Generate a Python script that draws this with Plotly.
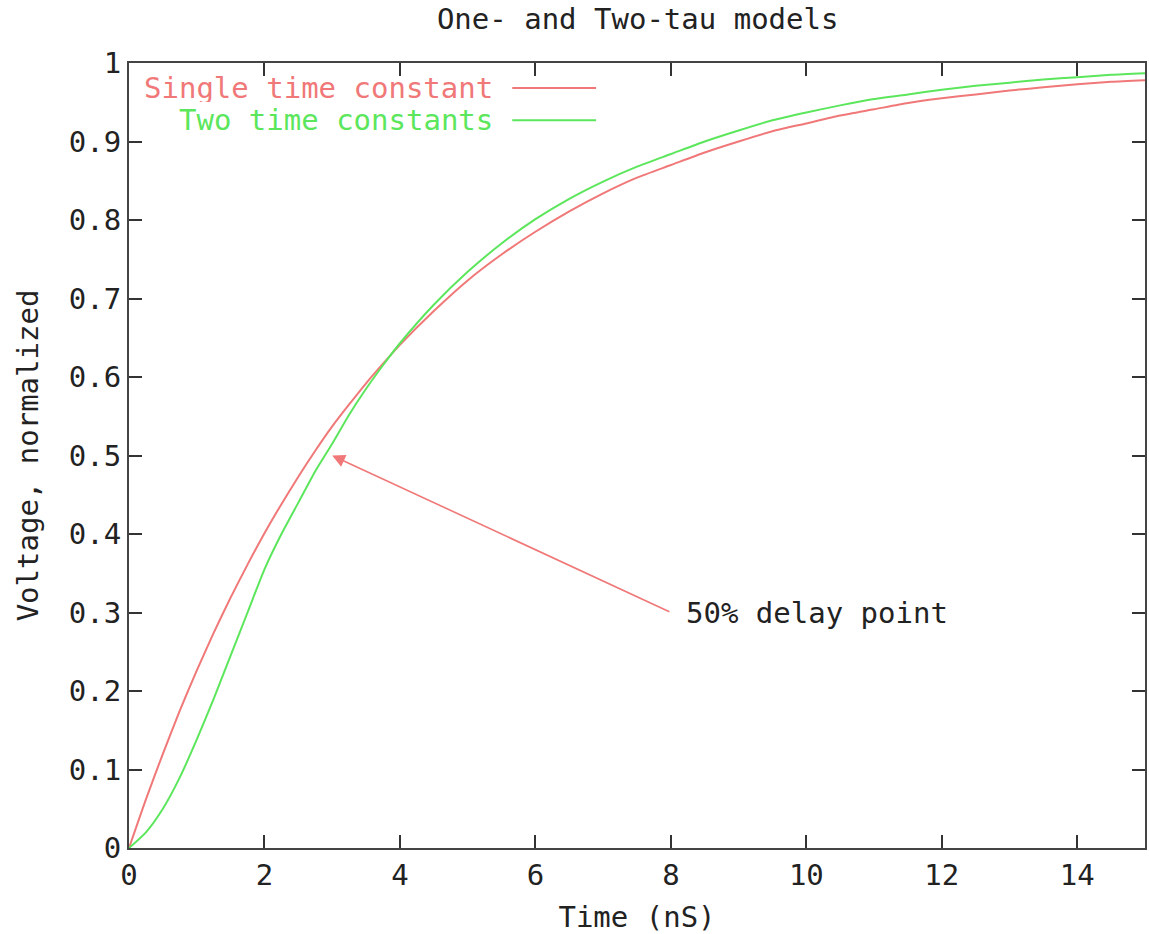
import plotly.graph_objects as go

# Time (nS)
t_vals = [0, 0.25, 0.5, 0.75, 1.0, 1.25, 1.5, 1.75, 2.0, 2.25, 2.5, 2.75, 3.0, 3.25, 3.5, 3.75, 4.0,
          4.5, 5.0, 5.5, 6.0, 6.5, 7.0, 7.5, 8.0, 8.5, 9.0, 9.5, 10.0, 10.5, 11.0, 11.5, 12.0,
          12.5, 13.0, 13.5, 14.0, 14.5, 15.0]

single_tau = [0.0, 0.062, 0.12, 0.175, 0.226, 0.274, 0.319, 0.361, 0.401, 0.438, 0.473, 0.506, 0.537,
              0.565, 0.592, 0.617, 0.641, 0.684, 0.723, 0.756, 0.785, 0.811, 0.834, 0.854, 0.870,
              0.886, 0.900, 0.913, 0.923, 0.933, 0.941, 0.949, 0.955, 0.960, 0.965, 0.969, 0.973,
              0.976, 0.978]

two_tau = [0.0, 0.02, 0.05, 0.09, 0.138, 0.19, 0.245, 0.30, 0.355, 0.40, 0.44, 0.48, 0.515,
           0.552, 0.585, 0.615, 0.643, 0.692, 0.734, 0.770, 0.801, 0.827, 0.849, 0.868, 0.884,
           0.900, 0.914, 0.927, 0.937, 0.946, 0.954, 0.960, 0.966, 0.971, 0.975, 0.979, 0.982,
           0.985, 0.987]

series_names = ["Single time constant", "Two time constants"]
x_ticks = [0, 2, 4, 6, 8, 10, 12, 14]
y_ticks = [0, 0.1, 0.2, 0.3, 0.4, 0.5, 0.6, 0.7, 0.8, 0.9, 1.0]
y_tick_text = ["0", "0.1", "0.2", "0.3", "0.4", "0.5", "0.6", "0.7", "0.8", "0.9", "1"]

RED = "#f07878"
GREEN = "#5ce65c"
FONT = "DejaVu Sans Mono"
FS = 29

fig = go.Figure()
fig.add_trace(go.Scatter(x=t_vals, y=single_tau, mode="lines", name=series_names[0],
                         line=dict(color=RED, width=2, shape="spline", smoothing=0.6), showlegend=False))
fig.add_trace(go.Scatter(x=t_vals, y=two_tau, mode="lines", name=series_names[1],
                         line=dict(color=GREEN, width=2, shape="spline", smoothing=0.6), showlegend=False))

# gnuplot-style key: text right-aligned, sample line to its right
key_rows = [(series_names[0], RED, 0.968), (series_names[1], GREEN, 0.927)]
annotations = []
shapes = []
for name, col, yp in key_rows:
    annotations.append(dict(x=(495 - 129) / 1018, y=yp, xref="paper", yref="paper", text=name,
                            showarrow=False, xanchor="right", yanchor="middle", height=28,
                            valign="middle", borderpad=0,
                            font=dict(family=FONT, size=FS, color=col)))
    shapes.append(dict(type="line", xref="paper", yref="paper",
                       x0=(513 - 129) / 1018, x1=(597 - 129) / 1018, y0=yp, y1=yp,
                       line=dict(color=col, width=2)))

# 50% delay point arrow
annotations.append(dict(x=3.0, y=0.5, ax=8.0, ay=0.3, xref="x", yref="y", axref="x", ayref="y",
                        text="", showarrow=True, arrowhead=2, arrowsize=1.6, arrowwidth=1.6,
                        arrowcolor=RED))
annotations.append(dict(x=8.2, y=0.3, xref="x", yref="y", text="50% delay point", showarrow=False,
                        xanchor="left", yanchor="middle", font=dict(family=FONT, size=FS, color="#222")))

fig.update_layout(
    width=1149, height=934,
    margin=dict(l=129, r=2, t=63, b=86),
    paper_bgcolor="white", plot_bgcolor="white",
    title=dict(text="One- and Two-tau models", x=0.555, xanchor="center", y=0.98, yanchor="middle",
               font=dict(family=FONT, size=FS, color="#222")),
    font=dict(family=FONT, size=FS, color="#222"),
    annotations=annotations, shapes=shapes,
)
fig.update_xaxes(range=[0, 15], tickvals=x_ticks, ticks="inside", ticklen=13, tickwidth=2,
                 tickcolor="#333", showline=True, linecolor="#444", linewidth=2, mirror="allticks",
                 showgrid=False, zeroline=False,
                 title=dict(text="Time (nS)", standoff=16, font=dict(family=FONT, size=FS)))
fig.update_yaxes(range=[0, 1], tickvals=y_ticks, ticktext=y_tick_text, ticks="inside", ticklen=13,
                 tickwidth=2, tickcolor="#333", showline=True, linecolor="#444", linewidth=2,
                 mirror="allticks", showgrid=False, zeroline=False,
                 title=dict(text="Voltage, normalized", standoff=22, font=dict(family=FONT, size=FS)))

fig.write_html("out.html", config={"displayModeBar": False},
               post_script="document.body.style.margin='0';document.body.style.overflow='hidden';")
